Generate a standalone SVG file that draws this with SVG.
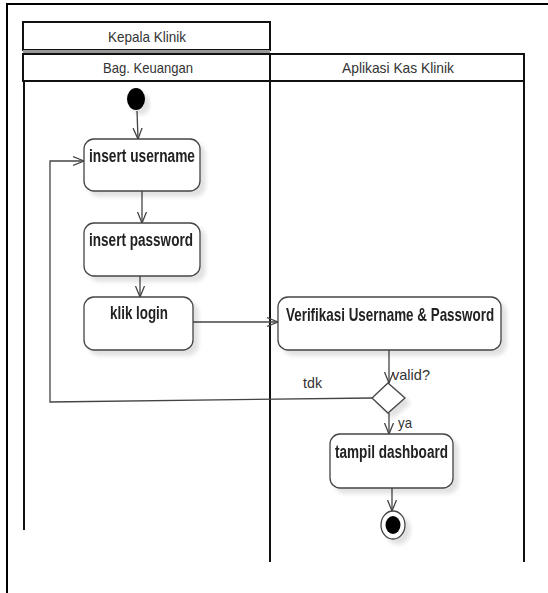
<svg xmlns="http://www.w3.org/2000/svg" width="548" height="593" viewBox="0 0 548 593">
  <style>
    .frame { fill: none; stroke: #000; stroke-width: 2; }
    .lane { fill: none; stroke: #111; stroke-width: 2; }
    .head { font-family: "Liberation Sans", Arial, sans-serif; font-size: 15px; fill: #333; text-anchor: middle; }
    .node rect { fill: #fff; stroke: #444; stroke-width: 1.3; }
    .label { font-family: "Liberation Sans", Arial, sans-serif; font-size: 18px; font-weight: bold; fill: #222; }
    .edge { fill: none; stroke: #444; stroke-width: 1.3; }
    .guard { font-family: "Liberation Sans", Arial, sans-serif; font-size: 15px; fill: #333; }
  </style>
  <defs>
    <marker id="open" viewBox="0 0 12 12" refX="11" refY="6" markerWidth="12" markerHeight="12" markerUnits="userSpaceOnUse" orient="auto">
      <path d="M0,1.5 L11,6 L0,10.5" fill="none" stroke="#444" stroke-width="1.3"/>
    </marker>
    <filter id="shadow" x="-20%" y="-20%" width="150%" height="150%">
      <feGaussianBlur in="SourceAlpha" stdDeviation="2"/>
      <feOffset dx="5" dy="5" result="b"/>
      <feComponentTransfer><feFuncA type="linear" slope="0.12"/></feComponentTransfer>
      <feMerge><feMergeNode/><feMergeNode in="SourceGraphic"/></feMerge>
    </filter>
  </defs>

  <rect width="548" height="593" fill="#fff"/>

  <!-- outer frame -->
  <path class="frame" d="M7,593 V4 H548"/>

  <!-- swimlanes -->
  <g id="lanes">
    <rect x="23" y="22" width="247" height="28" fill="#fff" stroke="#111" stroke-width="2"/>
    <text class="head" x="147" y="42" textLength="78" lengthAdjust="spacingAndGlyphs">Kepala Klinik</text>
    <rect x="23" y="50" width="247" height="3" fill="#999"/>
    <rect x="23" y="54" width="247" height="27" fill="#fff" stroke="#111" stroke-width="2"/>
    <text class="head" x="148" y="73" textLength="90" lengthAdjust="spacingAndGlyphs">Bag. Keuangan</text>
    <rect x="270" y="54" width="254" height="27" fill="#fff" stroke="#111" stroke-width="2"/>
    <text class="head" x="398" y="73" textLength="112" lengthAdjust="spacingAndGlyphs">Aplikasi Kas Klinik</text>
    <line class="lane" x1="24" y1="81" x2="24" y2="530"/>
    <line class="lane" x1="270" y1="81" x2="270" y2="562"/>
    <line class="lane" x1="524" y1="81" x2="524" y2="562"/>
  </g>

  <!-- connectors -->
  <g id="connectors">
    <path class="edge" d="M137,111 L138,139" marker-end="url(#open)"/>
    <path class="edge" d="M142,191 V223" marker-end="url(#open)"/>
    <path class="edge" d="M140,276 V297" marker-end="url(#open)"/>
    <path class="edge" d="M193,322 H278" marker-end="url(#open)"/>
    <path class="edge" d="M389,350 V383" marker-end="url(#open)"/>
    <path class="edge" d="M372,398 L50,402 V161 H84" marker-end="url(#open)"/>
    <path class="edge" d="M389,413 V434" marker-end="url(#open)"/>
    <path class="edge" d="M392,488 V511" marker-end="url(#open)"/>
    <text class="guard" x="392" y="380" textLength="38" lengthAdjust="spacingAndGlyphs">valid?</text>
    <text class="guard" x="303" y="388" textLength="19" lengthAdjust="spacingAndGlyphs">tdk</text>
    <text class="guard" x="398" y="428" textLength="14" lengthAdjust="spacingAndGlyphs">ya</text>
  </g>

  <!-- start -->
  <g id="start" filter="url(#shadow)">
    <ellipse cx="136" cy="99" rx="9" ry="11" fill="#000"/>
  </g>

  <g id="insert-username" class="node" filter="url(#shadow)">
    <rect x="84" y="139" width="116" height="52" rx="10"/>
    <text class="label" x="89" y="162" textLength="106" lengthAdjust="spacingAndGlyphs">insert username</text>
  </g>

  <g id="insert-password" class="node" filter="url(#shadow)">
    <rect x="84" y="223" width="116" height="53" rx="10"/>
    <text class="label" x="89" y="246" textLength="104" lengthAdjust="spacingAndGlyphs">insert password</text>
  </g>

  <g id="klik-login" class="node" filter="url(#shadow)">
    <rect x="84" y="297" width="109" height="53" rx="10"/>
    <text class="label" x="110" y="319" textLength="58" lengthAdjust="spacingAndGlyphs">klik login</text>
  </g>

  <g id="verifikasi" class="node" filter="url(#shadow)">
    <rect x="278" y="297" width="223" height="53" rx="10"/>
    <!-- narrow face: horizontal squeeze of the bold label -->
    <text class="label" transform="translate(286,321) scale(0.72,1)" x="0" y="0" textLength="289" lengthAdjust="spacingAndGlyphs">Verifikasi Username &amp; Password</text>
  </g>

  <g id="decision" filter="url(#shadow)">
    <path d="M388,383 L405,398 L388,413 L372,398 Z" fill="#fff" stroke="#444" stroke-width="1.3"/>
  </g>

  <g id="tampil-dashboard" class="node" filter="url(#shadow)">
    <rect x="330" y="434" width="123" height="54" rx="10"/>
    <text class="label" x="335" y="458" textLength="113" lengthAdjust="spacingAndGlyphs">tampil dashboard</text>
  </g>

  <g id="end" filter="url(#shadow)">
    <ellipse cx="393" cy="525" rx="12" ry="14" fill="#fff" stroke="#444" stroke-width="1.3"/>
    <ellipse cx="393" cy="525" rx="7.5" ry="9" fill="#000"/>
  </g>
</svg>
